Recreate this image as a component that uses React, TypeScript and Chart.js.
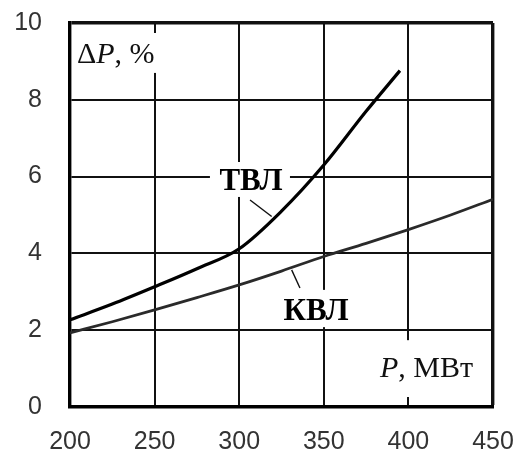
import React, { useEffect, useRef } from "react";
import { Chart, registerables } from "chart.js";

Chart.register(...registerables);

// Power P, MW
const tvlPower = [200, 225, 250, 275, 300, 325, 350, 375, 395];
// Losses ΔP, % for the overhead line (ТВЛ)
const tvlLoss = [2.27, 2.68, 3.13, 3.6, 4.12, 5.1, 6.3, 7.7, 8.76];

const kvlPower = [200, 225, 250, 275, 300, 325, 350, 375, 400, 425, 450];
// Losses ΔP, % for the cable line (КВЛ)
const kvlLoss = [1.93, 2.22, 2.53, 2.85, 3.18, 3.54, 3.92, 4.26, 4.62, 5.0, 5.41];

const xTicks = [200, 250, 300, 350, 400, 450];
const yTicks = [0, 2, 4, 6, 8, 10];

const SERIF = "'Liberation Serif', 'Times New Roman', serif";
const SANS = "'Liberation Sans', Arial, sans-serif";

const labelsPlugin = {
  id: "curveLabels",
  afterDatasetsDraw(chart: any) {
    const { ctx, scales } = chart;
    const xs = scales.x;
    const ys = scales.y;
    const px = (v: number) => xs.getPixelForValue(v);
    const py = (v: number) => ys.getPixelForValue(v);

    const whiteBox = (p0: number, p1: number, v0: number, v1: number) => {
      const x0 = px(p0), x1 = px(p1), y0 = py(v0), y1 = py(v1);
      ctx.fillStyle = "#fff";
      ctx.fillRect(x0, Math.min(y0, y1), x1 - x0, Math.abs(y1 - y0));
    };

    const leader = (p0: number, v0: number, p1: number, v1: number) => {
      ctx.beginPath();
      ctx.moveTo(px(p0), py(v0));
      ctx.lineTo(px(p1), py(v1));
      ctx.strokeStyle = "#111";
      ctx.lineWidth = 1.4;
      ctx.stroke();
    };

    // draw runs of text with mixed styles from a left start
    const runs = (x: number, y: number, parts: [string, string][]) => {
      let cx = x;
      for (const [font, text] of parts) {
        ctx.font = font;
        ctx.fillText(text, cx, y);
        cx += ctx.measureText(text).width;
      }
    };

    ctx.save();
    ctx.textBaseline = "alphabetic";

    // axis caption ΔP, %
    whiteBox(202.9, 252.9, 9.74, 8.7);
    ctx.fillStyle = "#111";
    ctx.textAlign = "left";
    runs(px(204.1), py(8.96), [
      [`30px ${SERIF}`, "Δ"],
      [`italic 30px ${SERIF}`, "P"],
      [`30px ${SERIF}`, ", %"],
    ]);

    // axis caption P, МВт
    whiteBox(380.2, 446.4, 1.74, 0.26);
    ctx.fillStyle = "#111";
    runs(px(383.2), py(0.78), [
      [`italic 30px ${SERIF}`, "P"],
      [`30px ${SERIF}`, ", МВт"],
    ]);

    // curve names
    whiteBox(282.7, 330, 6.38, 5.47);
    whiteBox(322.9, 367.8, 3.05, 2.08);
    ctx.fillStyle = "#000";
    ctx.textAlign = "center";
    ctx.font = `bold 31px ${SERIF}`;
    ctx.fillText("ТВЛ", px(307), py(5.65));
    ctx.fillText("КВЛ", px(345.4), py(2.27));

    leader(306.4, 5.39, 319.2, 4.96);
    leader(331, 3.57, 335.9, 3.1);

    ctx.restore();
  },
};

export default function App() {
  const canvasRef = useRef<HTMLCanvasElement | null>(null);

  useEffect(() => {
    document.body.style.margin = "0";
    const canvas = canvasRef.current;
    if (!canvas) return;

    const chart = new Chart(canvas, {
      type: "line",
      data: {
        datasets: [
          {
            label: "ТВЛ",
            data: tvlPower.map((p, i) => ({ x: p, y: tvlLoss[i] })),
            borderColor: "#000",
            borderWidth: 3.2,
            pointRadius: 0,
            cubicInterpolationMode: "monotone",
            fill: false,
          },
          {
            label: "КВЛ",
            data: kvlPower.map((p, i) => ({ x: p, y: kvlLoss[i] })),
            borderColor: "#2a2a2a",
            borderWidth: 2.8,
            pointRadius: 0,
            cubicInterpolationMode: "monotone",
            fill: false,
          },
        ],
      },
      options: {
        responsive: false,
        animation: false,
        devicePixelRatio: 1,
        layout: { padding: { top: 23, right: 32, left: 0, bottom: 0 } },
        plugins: {
          legend: { display: false },
          tooltip: { enabled: false },
        },
        scales: {
          x: {
            type: "linear",
            min: 200,
            max: 450,
            afterBuildTicks: (s: any) => {
              s.ticks = xTicks.map((v) => ({ value: v }));
            },
            afterFit: (s: any) => {
              s.height = 49;
              s.paddingLeft = 0;
              s.paddingRight = 0;
            },
            grid: {
              drawTicks: false,
              color: "#111",
              lineWidth: (c: any) => (c.tick && c.tick.value === 450 ? 3.4 : 2),
            },
            border: { display: true, color: "#000", width: 3.4 },
            ticks: {
              padding: 20,
              color: "#333",
              font: { family: SANS, size: 25 },
              maxRotation: 0,
            },
          },
          y: {
            type: "linear",
            min: 0,
            max: 10,
            afterBuildTicks: (s: any) => {
              s.ticks = yTicks.map((v) => ({ value: v }));
            },
            afterFit: (s: any) => {
              s.width = 70;
              s.paddingTop = 0;
              s.paddingBottom = 0;
            },
            grid: {
              drawTicks: false,
              color: "#111",
              lineWidth: (c: any) => (c.tick && c.tick.value === 10 ? 3.4 : 2),
            },
            border: { display: true, color: "#000", width: 3.4 },
            ticks: {
              padding: 28,
              color: "#333",
              font: { family: SANS, size: 25 },
            },
          },
        },
      },
      plugins: [labelsPlugin],
    });

    return () => chart.destroy();
  }, []);

  return (
    <div style={{ width: 525, height: 456, background: "#fff" }}>
      <canvas ref={canvasRef} width={525} height={456} />
    </div>
  );
}
